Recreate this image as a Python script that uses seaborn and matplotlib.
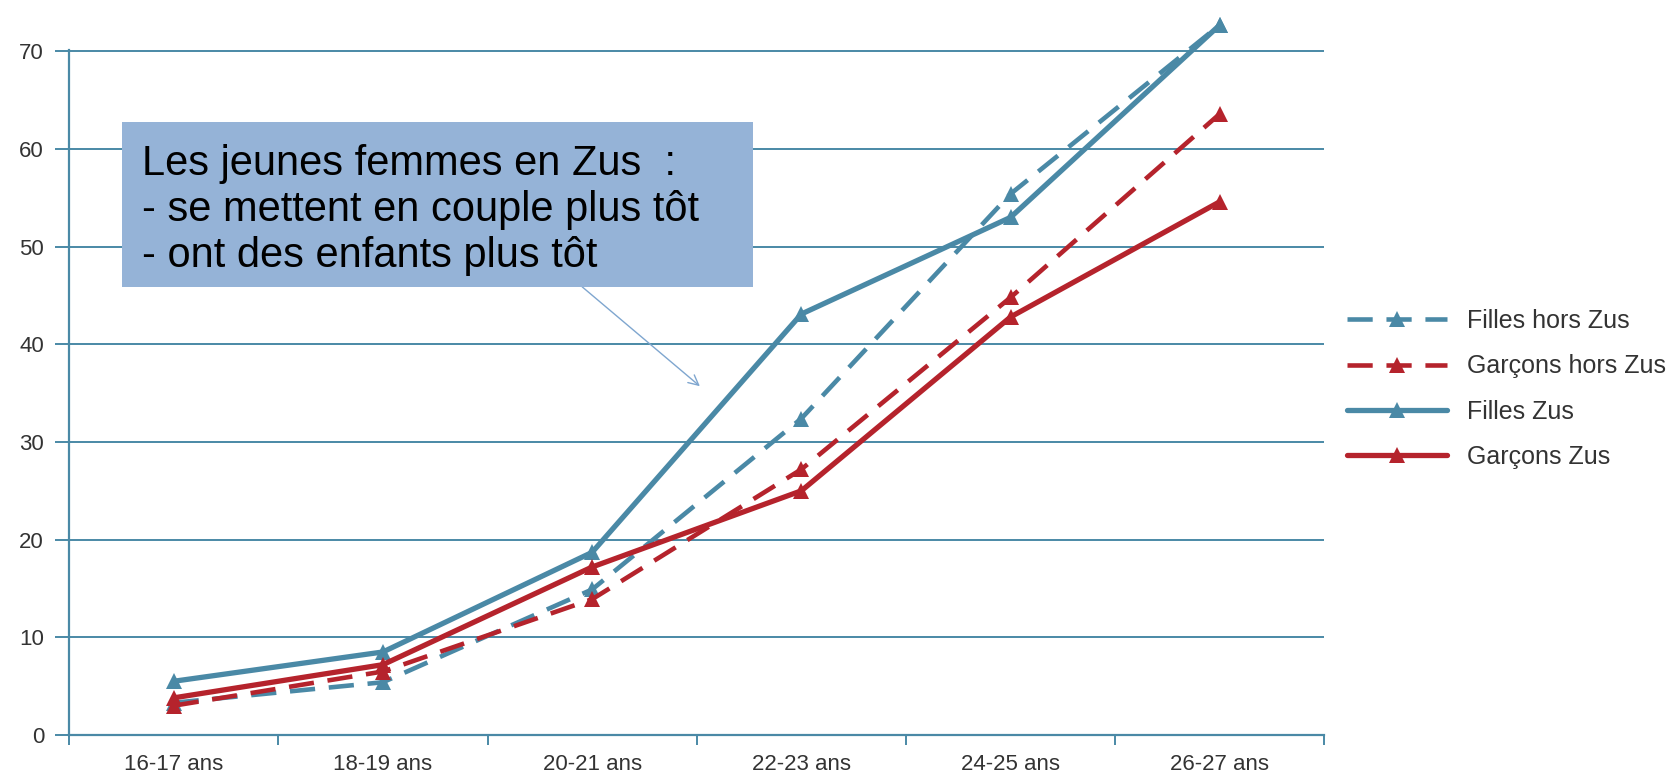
import matplotlib
matplotlib.use("Agg")
import matplotlib.pyplot as plt
import matplotlib.patches as patches
import seaborn as sns
import pandas as pd

# données
categories = ["16-17 ans", "18-19 ans", "20-21 ans", "22-23 ans", "24-25 ans", "26-27 ans"]
filles_hors_zus = [3.3, 5.4, 14.9, 32.4, 55.4, 72.7]
garcons_hors_zus = [3.0, 6.5, 13.9, 27.2, 44.8, 63.6]
filles_zus = [5.5, 8.5, 18.7, 43.1, 53.0, 72.7]
garcons_zus = [3.8, 7.2, 17.2, 25.0, 42.8, 54.6]
y_ticks = [0, 10, 20, 30, 40, 50, 60, 70]
note_lines = ["Les jeunes femmes en Zus  :",
              "- se mettent en couple plus tôt",
              "- ont des enfants plus tôt"]

BLUE = "#4a89a6"
RED = "#b5232c"
W, H = 1668, 779

sns.set_theme(style="white")
plt.rcParams["font.family"] = ["Liberation Sans", "DejaVu Sans"]

fig = plt.figure(figsize=(W / 100, H / 100), dpi=100)
ax = fig.add_axes([0.0414, 0.0565, 0.7526, 0.8795])

x = list(range(len(categories)))
series = [
    ("Filles hors Zus", filles_hors_zus, BLUE, (0, (5.5, 3.0)), 3.3),
    ("Garçons hors Zus", garcons_hors_zus, RED, (0, (5.5, 3.0)), 3.3),
    ("Filles Zus", filles_zus, BLUE, "-", 3.8),
    ("Garçons Zus", garcons_zus, RED, "-", 3.8),
]
for label, vals, color, ls, lw in series:
    df = pd.DataFrame({"x": x, "y": vals})
    sns.lineplot(data=df, x="x", y="y", ax=ax, color=color, linestyle=ls,
                 linewidth=lw, marker="^", markersize=11, markeredgewidth=0,
                 label=label, clip_on=False)

ax.set_xlim(-0.5, 5.5)
ax.set_ylim(0, 70.15)
ax.set_yticks(y_ticks)
ax.set_xticks(x)
ax.set_xticklabels(categories)
ax.set_xticks([i + 0.5 for i in range(-1, 6)], minor=True)
ax.set_xlabel("")
ax.set_ylabel("")

for tl in ax.get_xticklabels() + ax.get_yticklabels():
    tl.set_fontsize(16)
    tl.set_color("#333333")

ax.grid(axis="y", color=BLUE, linewidth=1.4)
ax.grid(axis="x", visible=False)
ax.set_axisbelow(True)
for s in ["top", "right"]:
    ax.spines[s].set_visible(False)
for s in ["left", "bottom"]:
    ax.spines[s].set_color(BLUE)
    ax.spines[s].set_linewidth(1.6)
ax.tick_params(axis="y", which="major", left=True, length=10, color=BLUE, width=1.4, pad=8)
ax.tick_params(axis="x", which="major", bottom=False, pad=8)
ax.tick_params(axis="x", which="minor", bottom=True, length=7, color=BLUE, width=1.4)

handles, labels = ax.get_legend_handles_labels()
leg = ax.legend(handles, labels, loc="center left", bbox_to_anchor=(1.0, 0.505),
                frameon=False, handlelength=4.0, handletextpad=0.8,
                labelspacing=0.85, prop={"size": 18})
for t in leg.get_texts():
    t.set_color("#333333")

# encadré
box = patches.Rectangle((122 / W, 1 - 287 / H), 631 / W, 165 / H, transform=fig.transFigure,
                        facecolor="#95b3d7", edgecolor="none", zorder=5)
fig.patches.append(box)
for i, line in enumerate(note_lines):
    fig.text(142 / W, 1 - (175 + 46 * i) / H, line, fontsize=30, color="black",
             va="baseline", ha="left", zorder=6)
ax.annotate("", xy=(702 / W, 1 - 388 / H), xycoords="figure fraction",
            xytext=(580 / W, 1 - 285 / H), textcoords="figure fraction",
            arrowprops=dict(arrowstyle="->", color="#7fa6cf", lw=1.0,
                            mutation_scale=18))

fig.savefig("out.png", dpi=100)
